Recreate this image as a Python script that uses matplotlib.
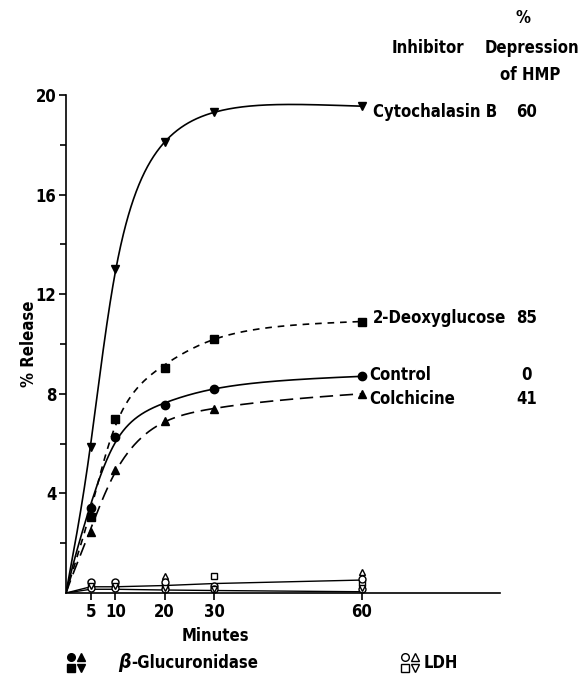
import numpy as np
import matplotlib
matplotlib.use("Agg")
import matplotlib.pyplot as plt
from matplotlib.lines import Line2D

plt.rcParams['font.family'] = ['DejaVu Sans']
plt.rcParams['font.weight'] = 'bold'
plt.rcParams['font.stretch'] = 'condensed'

# ---- data ----
minutes = [5, 10, 20, 30, 60]
cytochalasin = [5.85, 13.0, 18.1, 19.3, 19.55]
deoxyglucose = [3.05, 7.0, 9.05, 10.2, 10.9]
control = [3.4, 6.25, 7.55, 8.2, 8.7]
colchicine = [2.45, 4.95, 6.9, 7.4, 8.0]

# low-level release (beta-glucuronidase filled / LDH open markers near baseline)
gluc_line = [0.25, 0.25, 0.3, 0.38, 0.52]
ldh_line = [0.15, 0.15, 0.12, 0.1, 0.05]
low_open_square = [0.4, 0.4, 0.3, 0.7, 0.4]
low_open_circle = [0.2, 0.2, 0.15, 0.15, 0.15]
low_open_tri_down = [0.3, 0.3, 0.2, 0.15, 0.2]
low_tri_up = [0.35, 0.35, 0.7, 0.2, 0.85]
low_circle = [0.45, 0.45, 0.45, 0.3, 0.55]

yticks_major = [4, 8, 12, 16, 20]
yticks_minor = [2, 6, 10, 14, 18]

inhibitors = ["Cytochalasin B", "2-Deoxyglucose", "Control", "Colchicine"]
hmp_depression = ["60", "85", "0", "41"]


def smooth(x, y, lam=1.5e-3, n=601):
    """penalised (smoothing) spline on a log-warped time grid; a drawing aid only"""
    x = np.asarray(x, float); y = np.asarray(y, float)
    u = np.log1p(x / 10.0)
    ug = np.linspace(0, u.max(), n)
    du = ug[1] - ug[0]
    S = np.zeros((len(u), n))
    for i, uv in enumerate(u):
        k = min(int(uv / du), n - 2)
        w = (uv - ug[k]) / du
        S[i, k] = 1 - w; S[i, k + 1] = w
    wts = np.ones(len(u)); wts[0] = 1000.0; wts[-1] = 5.0; wts[-2] = 3.0
    Wm = np.diag(wts)
    D = np.zeros((n - 2, n))
    for i in range(n - 2):
        D[i, i:i + 3] = [1, -2, 1]
    D /= du**2
    Amat = S.T @ Wm @ S + lam * du * (D.T @ D)
    f = np.linalg.solve(Amat, S.T @ Wm @ y)
    tg = 10.0 * np.expm1(ug)
    return tg, f


W, H = 578, 676
fig = plt.figure(figsize=(W / 100, H / 100), dpi=100)
ax = fig.add_axes([66 / W, 1 - 593 / H, (500 - 66) / W, (593 - 95) / H])
ax.set_xlim(0, 88)
ax.set_ylim(0, 20)
for s in ['top', 'right']:
    ax.spines[s].set_visible(False)
for s in ['left', 'bottom']:
    ax.spines[s].set_linewidth(1.2)

series = [
    (cytochalasin, 'v', '-', None, 2.5e-4),
    (deoxyglucose, 's', '--', (4, 3.5), 1.2e-3),
    (control, 'o', '-', None, 1.5e-3),
    (colchicine, '^', '--', (8, 4), 1.2e-3),
]
for vals, mk, ls, dash, lam in series:
    tg, fg = smooth([0] + minutes, [0] + vals, lam=lam)
    line, = ax.plot(tg, fg, color='black', lw=1.2, ls=ls)
    if dash:
        line.set_dashes(dash)
    ax.plot(minutes, vals, ls='none', marker=mk, color='black', ms=6)

# baseline enzyme curves
ax.plot([0] + minutes, [0] + gluc_line, color='black', lw=1.0)
ax.plot([0] + minutes, [0] + ldh_line, color='black', lw=1.0)
kw = dict(ls='none', color='black', ms=5, mfc='white', clip_on=False)
ax.plot(minutes, low_tri_up, marker='^', **kw)
ax.plot(minutes, low_open_square, marker='s', **kw)
ax.plot(minutes, low_circle, marker='o', **kw)
ax.plot(minutes, low_open_circle, marker='o', **kw)
ax.plot(minutes, low_open_tri_down, marker='v', **kw)

FS = 12
ax.set_xticks(minutes)
ax.set_xticklabels([str(m) for m in minutes], fontsize=FS, fontweight='bold')
ax.set_yticks(yticks_major)
ax.set_yticklabels([str(v) for v in yticks_major], fontsize=FS, fontweight='bold')
ax.set_yticks(yticks_minor, minor=True)
ax.tick_params(axis='both', direction='out', length=5, width=1.2, pad=2)
ax.tick_params(axis='y', which='minor', direction='out', length=4, width=1.2)

ax.set_ylabel('% Release', fontsize=12, fontweight='bold')
ax.yaxis.set_label_coords((38 - 66) / 434, 0.5)


def ft(px, py, s, **kw):
    fig.text(px / W, 1 - py / H, s, fontsize=FS, fontweight='bold', **kw)


ft(215, 636, 'Minutes', ha='center', va='center')

# inhibitor labels
label_y = [112, 318, 375, 399]
label_x = [373, 373, 369, 369]
for name, val, px, py in zip(inhibitors, hmp_depression, label_x, label_y):
    ft(px, py, name, ha='left', va='center')
    ft(527, py, val, ha='center', va='center')

ft(428, 48, 'Inhibitor', ha='center', va='center')
ft(523, 18, '%', ha='center', va='center')
ft(532, 48, 'Depression', ha='center', va='center')
ft(530, 75, 'of HMP', ha='center', va='center')


# legend
def fmark(px, py, mk, filled):
    fig.add_artist(Line2D([px / W], [1 - py / H], marker=mk, color='black', ms=5.5,
                          mfc='black' if filled else 'white', ls='none'))


for (dx, dy, mk) in [(0, 0, 'o'), (10, 0, '^'), (0, 11, 's'), (10, 11, 'v')]:
    fmark(71 + dx, 657 + dy, mk, True)
    fmark(405 + dx, 657 + dy, mk, False)

fig.text(118 / W, 1 - 663 / H, r'$\beta$', fontsize=14, ha='left', va='center',
         fontweight='normal', family='DejaVu Sans')
ft(131, 663, '-Glucuronidase', ha='left', va='center')
ft(424, 663, 'LDH', ha='left', va='center')

fig.savefig('out.png', dpi=100)
